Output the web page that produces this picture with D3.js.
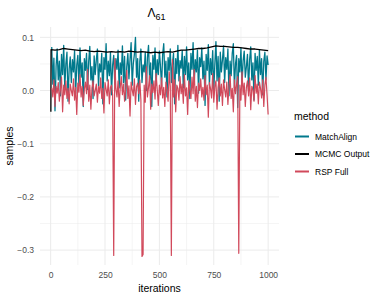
<!DOCTYPE html>
<html>
<head>
<meta charset="utf-8">
<script src="https://cdn.jsdelivr.net/npm/d3@7"></script>
<style>
  body { margin: 0; background: #fff; }
  svg { display: block; font-family: "Liberation Sans", Arial, sans-serif; }
</style>
</head>
<body>
<svg id="chart" width="382" height="300"></svg>
<script>
// ---------------- data ----------------
const methods = ["MatchAlign", "MCMC Output", "RSP Full"];
const colors = ["#00798c", "#000000", "#d1495b"];

const xTicks = [0, 250, 500, 750, 1000];
const xMinor = [125, 375, 625, 875];
const yTicks = [0.1, 0.0, -0.1, -0.2, -0.3];
const yTickLabels = ["0.1", "0.0", "\u22120.1", "\u22120.2", "\u22120.3"];
const yMinor = [0.05, -0.05, -0.15, -0.25];

// iterations sampled every 5 for the two noisy chains
const chainIter = d3.range(5, 1001, 5);

const matchAlign = [
  0.082, 0.012, 0.061, -0.038, 0.045, 0.078, 0.020, 0.055, -0.010, 0.068, 0.030, 0.085, 0.005, 0.050, 0.072, -0.020, 0.040, 0.063, 0.015, 0.058,
  0.035, 0.075, -0.005, 0.048, 0.066, 0.010, 0.080, 0.025, 0.052, -0.030, 0.060, 0.038, 0.070, 0.002, 0.055, 0.083, 0.020, 0.045, -0.015, 0.065,
  0.030, 0.058, 0.078, 0.008, 0.050, 0.035, 0.070, -0.025, 0.062, 0.040, 0.088, 0.018, 0.055, 0.028, 0.072, -0.008, 0.048, 0.066, 0.012, 0.060,
  0.040, 0.076, 0.005, 0.052, 0.030, 0.084, 0.015, 0.064, -0.018, 0.045, 0.070, 0.022, 0.058, 0.090, 0.010, 0.050, 0.068, 0.100, 0.025, 0.060,
  -0.020, 0.055, 0.078, 0.015, 0.048, 0.035, 0.072, 0.000, 0.062, 0.085, 0.020, 0.052, -0.030, 0.066, 0.040, 0.080, 0.010, 0.058, 0.030, 0.074,
  0.045, 0.008, 0.068, 0.088, 0.025, 0.055, -0.012, 0.062, 0.038, 0.078, 0.015, 0.050, 0.070, -0.025, 0.060, 0.032, 0.085, 0.018, 0.056, 0.042,
  0.075, 0.005, 0.064, 0.030, 0.082, 0.020, 0.052, -0.015, 0.070, 0.040, 0.090, 0.012, 0.058, 0.035, 0.076, -0.005, 0.062, 0.045, 0.080, 0.022,
  0.055, -0.028, 0.068, 0.038, 0.086, 0.010, 0.060, 0.030, 0.075, 0.000, 0.050, 0.092, 0.018, 0.064, -0.020, 0.072, 0.035, 0.058, 0.084, 0.015,
  0.062, 0.040, 0.078, -0.010, 0.055, 0.028, 0.070, 0.088, 0.005, 0.050, 0.066, -0.032, 0.060, 0.035, 0.080, 0.012, 0.056, 0.074, 0.025, 0.045,
  0.068, 0.002, 0.058, 0.082, 0.020, 0.052, -0.018, 0.070, 0.038, 0.064, 0.010, 0.076, 0.030, 0.060, -0.008, 0.055, 0.072, 0.020, 0.065, 0.048
];

const rspFull = [
  0.005, -0.012, 0.020, -0.030, 0.008, -0.005, 0.015, -0.020, 0.002, 0.025, -0.040, 0.010, -0.008, 0.018, -0.015, 0.004, -0.025, 0.012, 0.000, -0.010,
  0.022, -0.018, 0.006, -0.045, 0.014, -0.003, 0.030, -0.012, 0.008, -0.028, 0.003, 0.016, -0.006, 0.040, -0.020, 0.010, -0.035, 0.005, 0.018, -0.010,
  0.000, 0.012, -0.022, 0.008, -0.005, 0.024, -0.015, 0.004, -0.042, 0.015, 0.002, -0.010, 0.020, -0.025, 0.006, 0.010, -0.008, -0.310, 0.060, 0.003,
  -0.012, 0.018, -0.030, 0.006, 0.026, -0.008, 0.012, -0.020, 0.004, 0.038, -0.015, 0.009, -0.048, 0.016, 0.001, -0.010, 0.022, -0.026, 0.007, 0.014,
  -0.006, 0.020, -0.018, -0.312, -0.308, 0.010, -0.022, 0.045, -0.012, 0.006, 0.028, -0.035, 0.012, -0.004, 0.018, -0.016, 0.032, 0.002, -0.028, 0.010,
  -0.008, 0.024, -0.014, 0.006, -0.030, 0.016, 0.000, -0.020, 0.035, 0.008, -0.310, 0.058, -0.012, 0.020, -0.040, 0.010, 0.004, -0.018, 0.026, -0.006,
  0.012, -0.024, 0.030, -0.010, 0.005, -0.045, 0.018, 0.002, -0.015, 0.025, -0.006, 0.040, -0.020, 0.008, -0.032, 0.014, 0.000, 0.022, -0.012, 0.006,
  -0.018, 0.028, -0.008, 0.010, -0.050, 0.015, 0.004, -0.014, 0.032, -0.022, 0.008, 0.018, -0.035, 0.006, 0.024, -0.010, 0.012, -0.028, 0.020, 0.002,
  -0.012, 0.016, -0.026, 0.008, 0.030, -0.015, 0.004, -0.040, 0.020, -0.006, 0.012, 0.026, -0.306, 0.010, -0.018, 0.035, -0.008, 0.014, -0.030, 0.006,
  0.018, -0.010, 0.024, -0.036, 0.008, 0.002, -0.020, 0.028, -0.005, 0.012, -0.025, 0.016, 0.004, -0.014, 0.020, -0.030, 0.010, 0.025, -0.008, -0.045
];

const mcmcIter = [1, 2, 20, 40, 60, 80, 100, 120, 140, 160, 180, 200, 220, 240, 260, 280, 300, 320, 340, 360, 380, 400,
  420, 440, 460, 480, 500, 520, 540, 560, 580, 600, 620, 640, 660, 680, 700, 720, 740, 760, 780, 800, 820, 840, 860, 880,
  900, 920, 940, 960, 980, 1000];
const mcmcOutput = [-0.040, 0.077, 0.076, 0.077, 0.079, 0.078, 0.077, 0.076, 0.075, 0.076, 0.074, 0.073, 0.074, 0.073, 0.072, 0.073,
  0.072, 0.073, 0.072, 0.074, 0.073, 0.072, 0.073, 0.072, 0.071, 0.072, 0.071, 0.072, 0.073, 0.072, 0.074, 0.076, 0.076, 0.077,
  0.078, 0.079, 0.079, 0.080, 0.082, 0.084, 0.083, 0.083, 0.082, 0.081, 0.081, 0.080, 0.079, 0.078, 0.078, 0.077, 0.076, 0.075];

// ---------------- layout ----------------
const svg = d3.select("#chart");
const panel = { left: 40, right: 279, top: 27, bottom: 265 };

const x = d3.scaleLinear().domain([1 - 0.05 * 999, 1000 + 0.05 * 999]).range([panel.left, panel.right]);
const y = d3.scaleLinear().domain([-0.328, 0.1194]).range([panel.bottom, panel.top]);

// grid
const grid = svg.append("g");
grid.selectAll(".ymin").data(yMinor).join("line")
  .attr("x1", panel.left).attr("x2", panel.right)
  .attr("y1", d => y(d)).attr("y2", d => y(d))
  .attr("stroke", "#ebebeb").attr("stroke-width", 0.5);
grid.selectAll(".xmin").data(xMinor).join("line")
  .attr("y1", panel.top).attr("y2", panel.bottom)
  .attr("x1", d => x(d)).attr("x2", d => x(d))
  .attr("stroke", "#ebebeb").attr("stroke-width", 0.5);
grid.selectAll(".ymaj").data(yTicks).join("line")
  .attr("x1", panel.left).attr("x2", panel.right)
  .attr("y1", d => y(d)).attr("y2", d => y(d))
  .attr("stroke", "#ebebeb").attr("stroke-width", 1);
grid.selectAll(".xmaj").data(xTicks).join("line")
  .attr("y1", panel.top).attr("y2", panel.bottom)
  .attr("x1", d => x(d)).attr("x2", d => x(d))
  .attr("stroke", "#ebebeb").attr("stroke-width", 1);

// axes (text only, theme_minimal)
const xAxis = svg.append("g").attr("transform", `translate(0,${panel.bottom})`)
  .call(d3.axisBottom(x).tickValues(xTicks).tickSize(0).tickPadding(7).tickFormat(d3.format("d")));
xAxis.select(".domain").remove();
xAxis.selectAll("text").attr("fill", "#4d4d4d").attr("font-size", 8.5).attr("font-family", "Liberation Sans, Arial, sans-serif");

const yAxis = svg.append("g").attr("transform", `translate(${panel.left},0)`)
  .call(d3.axisLeft(y).tickValues(yTicks).tickSize(0).tickPadding(6).tickFormat((d, i) => yTickLabels[i]));
yAxis.select(".domain").remove();
yAxis.selectAll("text").attr("fill", "#4d4d4d").attr("font-size", 8.5).attr("font-family", "Liberation Sans, Arial, sans-serif");

// lines
const line = d3.line().x(d => x(d[0])).y(d => y(d[1]));
const series = [
  chainIter.map((it, i) => [it, matchAlign[i]]),
  mcmcIter.map((it, i) => [it, mcmcOutput[i]]),
  chainIter.map((it, i) => [it, rspFull[i]])
];
const widths = [1.3, 1.3, 1.2];
svg.append("g").selectAll("path").data(series).join("path")
  .attr("d", line)
  .attr("fill", "none")
  .attr("stroke", (d, i) => colors[i])
  .attr("stroke-width", (d, i) => widths[i])
  .attr("stroke-linejoin", "round");

// titles
const title = svg.append("text").attr("x", (panel.left + panel.right) / 2 - 3).attr("y", 17)
  .attr("text-anchor", "middle").attr("font-size", 12).attr("fill", "#000");
title.append("tspan").text("\u039B");
title.append("tspan").attr("font-size", 9).attr("dy", 3).text("61");

svg.append("text").attr("x", (panel.left + panel.right) / 2).attr("y", 292)
  .attr("text-anchor", "middle").attr("font-size", 10.5).attr("fill", "#000").text("iterations");

svg.append("text").attr("transform", `translate(13,${(panel.top + panel.bottom) / 2}) rotate(-90)`)
  .attr("text-anchor", "middle").attr("font-size", 10.5).attr("fill", "#000").text("samples");

// legend
const legend = svg.append("g");
legend.append("text").attr("x", 294).attr("y", 120).attr("font-size", 10.5).attr("fill", "#000").text("method");
const ly = [136.5, 154, 171.5];
const items = legend.selectAll("g.item").data(methods).join("g").attr("class", "item")
  .attr("transform", (d, i) => `translate(0,${ly[i]})`);
items.append("line").attr("x1", 295).attr("x2", 309).attr("y1", 0).attr("y2", 0)
  .attr("stroke", (d, i) => colors[i]).attr("stroke-width", 2);
items.append("text").attr("x", 315).attr("y", 3).attr("font-size", 8.5).attr("fill", "#000").text(d => d);
</script>
</body>
</html>
